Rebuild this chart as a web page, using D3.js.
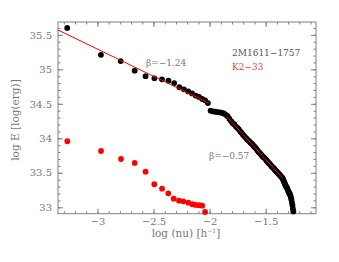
<!DOCTYPE html>
<html>
<head>
<meta charset="utf-8">
<script src="https://cdn.jsdelivr.net/npm/d3@7"></script>
<style>
  body { margin: 0; background: #fff; }
  svg { display: block; font-family: "DejaVu Serif", serif; }
</style>
</head>
<body>
<div id="chart"></div>
<script>
// 2M1611-1757 cumulative flare frequency (black)
const starX = [-3.270, -2.969, -2.793, -2.668, -2.571, -2.492, -2.425, -2.367, -2.316, -2.270,
  -2.229, -2.191, -2.156, -2.124, -2.094, -2.066, -2.040, -2.015, -1.991, -1.969,
  -1.948, -1.928, -1.908, -1.890, -1.872, -1.855, -1.839, -1.823, -1.808, -1.793,
  -1.779, -1.765, -1.751, -1.739, -1.726, -1.714, -1.702, -1.690, -1.679, -1.668,
  -1.657, -1.647, -1.637, -1.627, -1.617, -1.607, -1.598, -1.589, -1.580, -1.571,
  -1.562, -1.554, -1.546, -1.538, -1.530, -1.522, -1.514, -1.507, -1.499, -1.492,
  -1.485, -1.478, -1.471, -1.464, -1.457, -1.450, -1.444, -1.437, -1.431, -1.425,
  -1.419, -1.413, -1.407, -1.401, -1.395, -1.389, -1.384, -1.378, -1.372, -1.367,
  -1.362, -1.356, -1.351, -1.346, -1.341, -1.336, -1.330, -1.326, -1.321, -1.316,
  -1.311, -1.306, -1.302, -1.297, -1.292, -1.288, -1.283, -1.279, -1.274, -1.270,
  -1.266, -1.261, -1.257, -1.253];
const starY = [35.60, 35.21, 35.12, 34.98, 34.90, 34.87, 34.855, 34.835, 34.80, 34.74,
  34.71, 34.68, 34.65, 34.62, 34.60, 34.57, 34.55, 34.51, 34.40, 34.39,
  34.385, 34.38, 34.375, 34.37, 34.36, 34.34, 34.32, 34.28, 34.25, 34.22,
  34.20, 34.17, 34.15, 34.13, 34.10, 34.08, 34.05, 34.03, 34.01, 33.99,
  33.97, 33.96, 33.94, 33.925, 33.91, 33.89, 33.875, 33.86, 33.84, 33.82,
  33.80, 33.79, 33.775, 33.76, 33.745, 33.73, 33.72, 33.71, 33.695, 33.68,
  33.665, 33.65, 33.64, 33.63, 33.615, 33.60, 33.59, 33.58, 33.57, 33.56,
  33.55, 33.535, 33.525, 33.515, 33.505, 33.495, 33.485, 33.475, 33.465, 33.455,
  33.445, 33.435, 33.425, 33.41, 33.39, 33.37, 33.35, 33.33, 33.31, 33.30,
  33.285, 33.27, 33.25, 33.23, 33.215, 33.20, 33.185, 33.17, 33.14, 33.11,
  33.07, 33.03, 32.98, 32.94];

// K2-33 (red)
const k2X = [-3.269, -2.968, -2.790, -2.668, -2.571, -2.493, -2.424, -2.368, -2.320, -2.273,
  -2.234, -2.190, -2.154, -2.124, -2.094, -2.066, -2.040];
const k2Y = [33.957, 33.816, 33.70, 33.643, 33.516, 33.334, 33.27, 33.203, 33.125, 33.096,
  33.087, 33.067, 33.044, 33.034, 33.03, 33.024, 32.932];

// power-law fits
const fit1X = [-3.352, -2.002];
const fit1Y = [35.57, 34.508];
const fit2X = [-1.847, -1.348];
const fit2Y = [34.314, 33.421];

const xTicks = [-3, -2.5, -2, -1.5];
const yTicks = [33, 33.5, 34, 34.5, 35, 35.5];

const width = 339, height = 262;
const mLeft = 58, mRight = 316, mTop = 22, mBottom = 213.7;
const axisGray = "#808080";

const svg = d3.select("#chart").append("svg")
  .attr("width", width).attr("height", height);

const x = d3.scaleLinear().domain([-3.352, -1.051]).range([mLeft, mRight]);
const y = d3.scaleLinear().domain([32.907, 35.686]).range([mBottom, mTop]);

const minorX = d3.range(-3.3, -1.05, 0.1).map(d => +d.toFixed(1));
const minorY = d3.range(33.0, 35.69, 0.1).map(d => +d.toFixed(1));
const fmt = d3.format("~g");

function styleAxis(g) {
  g.select(".domain").remove();
  g.selectAll("line").attr("stroke", axisGray);
  g.selectAll("text").attr("fill", "#777").attr("font-size", 10)
    .attr("font-family", "DejaVu Serif, serif");
}

// bottom
svg.append("g").attr("transform", `translate(0,${mBottom})`)
  .call(d3.axisBottom(x).tickValues(minorX).tickSize(-2.5).tickFormat(""))
  .call(styleAxis);
svg.append("g").attr("transform", `translate(0,${mBottom})`)
  .call(d3.axisBottom(x).tickValues(xTicks).tickSize(-5).tickPadding(4).tickFormat(fmt))
  .call(styleAxis);
// top
svg.append("g").attr("transform", `translate(0,${mTop})`)
  .call(d3.axisTop(x).tickValues(minorX).tickSize(-2.5).tickFormat(""))
  .call(styleAxis);
svg.append("g").attr("transform", `translate(0,${mTop})`)
  .call(d3.axisTop(x).tickValues(xTicks).tickSize(-5).tickFormat(""))
  .call(styleAxis);
// left
svg.append("g").attr("transform", `translate(${mLeft},0)`)
  .call(d3.axisLeft(y).tickValues(minorY).tickSize(-2.5).tickFormat(""))
  .call(styleAxis);
svg.append("g").attr("transform", `translate(${mLeft},0)`)
  .call(d3.axisLeft(y).tickValues(yTicks).tickSize(-5).tickPadding(6).tickFormat(fmt))
  .call(styleAxis);
// right
svg.append("g").attr("transform", `translate(${mRight},0)`)
  .call(d3.axisRight(y).tickValues(minorY).tickSize(-2.5).tickFormat(""))
  .call(styleAxis);
svg.append("g").attr("transform", `translate(${mRight},0)`)
  .call(d3.axisRight(y).tickValues(yTicks).tickSize(-5).tickFormat(""))
  .call(styleAxis);

// frame
svg.append("rect")
  .attr("x", mLeft).attr("y", mTop)
  .attr("width", mRight - mLeft).attr("height", mBottom - mTop)
  .attr("fill", "none").attr("stroke", axisGray).attr("stroke-width", 1);

// points
svg.append("g").selectAll("circle")
  .data(starX.map((d, i) => [d, starY[i]]))
  .join("circle")
  .attr("cx", d => x(d[0])).attr("cy", d => y(d[1]))
  .attr("r", 2.9).attr("fill", "#000");

svg.append("g").selectAll("circle")
  .data(k2X.map((d, i) => [d, k2Y[i]]))
  .join("circle")
  .attr("cx", d => x(d[0])).attr("cy", d => y(d[1]))
  .attr("r", 2.9).attr("fill", "#ff0000");

// fits
const line = d3.line().x(d => x(d[0])).y(d => y(d[1]));
[[fit1X, fit1Y], [fit2X, fit2Y]].forEach(([fx, fy]) => {
  svg.append("path")
    .datum(fx.map((d, i) => [d, fy[i]]))
    .attr("d", line)
    .attr("fill", "none").attr("stroke", "#ff0000").attr("stroke-width", 1);
});

// annotations
svg.append("text").attr("x", 146).attr("y", 66)
  .attr("font-size", 9).attr("fill", "#777").text("β=−1.24");
svg.append("text").attr("x", 209).attr("y", 159)
  .attr("font-size", 9).attr("fill", "#777").text("β=−0.57");
svg.append("text").attr("x", 232).attr("y", 56)
  .attr("font-size", 9).attr("fill", "#555").text("2M1611−1757");
svg.append("text").attr("x", 232).attr("y", 70)
  .attr("font-size", 9).attr("fill", "#f04040").text("K2−33");

// axis titles
svg.append("text")
  .attr("x", 186).attr("y", 237)
  .attr("text-anchor", "middle").attr("font-size", 10.5).attr("fill", "#777")
  .html('log (nu) [h<tspan dy="-4" font-size="6">−1</tspan><tspan dy="4">]</tspan>');
svg.append("text")
  .attr("transform", `translate(19,120) rotate(-90)`)
  .attr("text-anchor", "middle").attr("font-size", 10.5).attr("fill", "#777")
  .text("log E [log(erg)]");
</script>
</body>
</html>
